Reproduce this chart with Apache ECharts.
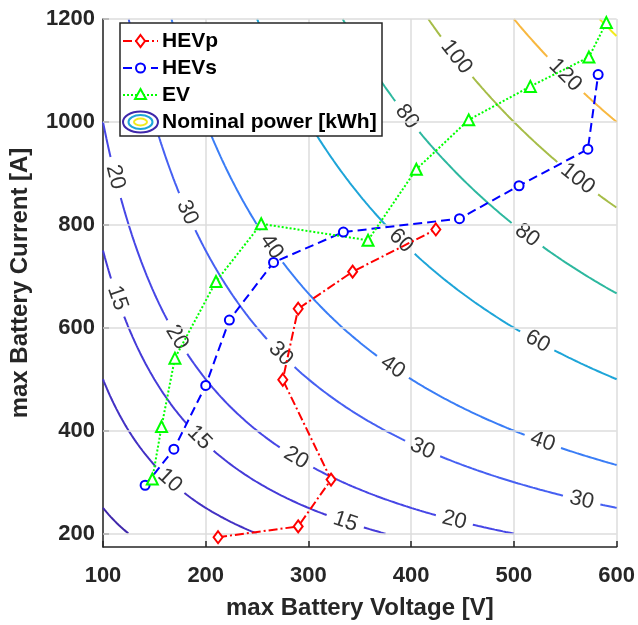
<!DOCTYPE html>
<html><head><meta charset="utf-8">
<script src="https://cdn.jsdelivr.net/npm/echarts@6/dist/echarts.min.js"></script>
<style>html,body{margin:0;padding:0;background:#fff}#c{width:638px;height:625px}</style>
</head><body><div id="c"></div>
<script>
// ---- data ----
const hevpVoltage = [212, 290, 322, 275, 290, 343, 424];
const hevpCurrent = [193, 214, 305, 499, 637, 709, 791];
const hevsVoltage = [141, 169, 200, 223, 266, 334, 447, 505, 572, 582];
const hevsCurrent = [294, 364, 488, 615, 727, 786, 812, 876, 947, 1092];
const evVoltage = [148, 157, 170, 210, 254, 358, 405, 456, 516, 573, 590];
const evCurrent = [306, 408, 541, 690, 802, 770, 908, 1004, 1069, 1126, 1193];
// contour field: nominal power = V * I / powerDivisor, on V in voltageRange, I in currentRange
const contourLevels = [5, 10, 15, 20, 30, 40, 60, 80, 100, 120, 140];
const powerDivisor = 5000;
const voltageRange = [100, 600];
const currentRange = [200, 1200];
// inline contour labels: level and voltage where each label sits on its line
const contourLabelLevels   = [20, 20, 20, 20, 30, 30, 30, 30, 15, 15, 15, 10, 40, 40, 40, 60, 60, 80, 80, 100, 100, 120];
const contourLabelVoltages = [112, 172, 288, 442, 182, 273, 411, 566, 114, 194, 336, 165, 264, 382, 528, 390, 523, 396, 513, 444, 562, 550];
const xTicks = [100, 200, 300, 400, 500, 600];
const yTicks = [200, 400, 600, 800, 1000, 1200];
const legendLabels = ['HEVp', 'HEVs', 'EV', 'Nominal power [kWh]'];

// ---- styles ----
const contourColors = ['#3f27ab', '#4331c4', '#453bd8', '#4747e6', '#4660f2', '#3a7df6', '#1ea5d8', '#2db89f', '#a6bd48', '#f8b840', '#f2ea1e'];
const FONT = '"Liberation Sans", Arial, Helvetica, sans-serif';
const AX = '#262626';

const chart = echarts.init(document.getElementById('c'), null, {renderer: 'canvas'});
const base = {
  animation: false,
  grid: {left: 97, right: 21, top: 19, bottom: 71, containLabel: false},
  xAxis: {
    type: 'value', min: xTicks[0], max: xTicks[xTicks.length - 1], interval: 100,
    name: 'max Battery Voltage [V]', nameLocation: 'middle', nameGap: 49,
    nameTextStyle: {fontFamily: FONT, fontWeight: 'bold', fontSize: 24, color: AX},
    axisLine: {onZero: false, lineStyle: {color: AX, width: 1.5}},
    axisTick: {inside: true, length: 6, lineStyle: {color: AX, width: 1.5}},
    axisLabel: {fontFamily: FONT, fontWeight: 'bold', fontSize: 22, color: AX, margin: 18, formatter: v => String(v)},
    splitLine: {show: true, lineStyle: {color: '#dddddd', width: 1.5}}
  },
  yAxis: {
    type: 'value', min: 174, max: yTicks[yTicks.length - 1],
    name: 'max Battery Current [A]', nameLocation: 'middle', nameGap: 71,
    nameTextStyle: {fontFamily: FONT, fontWeight: 'bold', fontSize: 24, color: AX},
    axisLine: {onZero: false, lineStyle: {color: AX, width: 1.5}},
    axisTick: {inside: true, length: 6, lineStyle: {color: AX, width: 1.5}, customValues: yTicks},
    axisLabel: {fontFamily: FONT, fontWeight: 'bold', fontSize: 22, color: AX, margin: 8, customValues: yTicks, formatter: v => String(v)},
    splitLine: {show: false}
  },
  series: []
};
chart.setOption(base);

const toPx = (v, i) => chart.convertToPixel({gridIndex: 0}, [v, i]);
const curI = (L, v) => L * powerDivisor / v;

const labelInfo = contourLabelLevels.map((L, k) => {
  const v = contourLabelVoltages[k];
  const p = toPx(v, curI(L, v));
  const a = toPx(v - 1.5, curI(L, v - 1.5));
  const b = toPx(v + 1.5, curI(L, v + 1.5));
  let ang = Math.atan2(-(b[1] - a[1]), b[0] - a[0]) * 180 / Math.PI;
  if (ang > 90) ang -= 180;
  if (ang < -90) ang += 180;
  return {L, v, i: curI(L, v), p, ang, r: String(L).length * 6.5 + 6};
});

const series = [];
// horizontal grid lines
series.push({
  type: 'line', data: [], silent: true, z: 1,
  markLine: {silent: true, symbol: 'none', label: {show: false},
    lineStyle: {color: '#dddddd', width: 1.5, type: 'solid'},
    data: yTicks.map(t => ({yAxis: t}))}
});
contourLevels.forEach((L, idx) => {
  const v0 = Math.max(voltageRange[0], L * powerDivisor / currentRange[1]);
  const v1 = Math.min(voltageRange[1], L * powerDivisor / currentRange[0]);
  const pts = [];
  const N = 600;
  for (let k = 0; k <= N; k++) {
    const v = v0 + (v1 - v0) * k / N;
    const i = curI(L, v);
    const p = toPx(v, i);
    const hide = labelInfo.some(l => l.L === L && Math.hypot(p[0] - l.p[0], p[1] - l.p[1]) < l.r);
    pts.push(hide ? [v, '-'] : [v, i]);
  }
  series.push({type: 'line', data: pts, symbol: 'none', showSymbol: false, connectNulls: false, silent: true, z: 2,
    lineStyle: {color: contourColors[idx], width: 2}});
});
series.push({
  type: 'scatter', symbolSize: 0, silent: true, z: 3, itemStyle: {color: '#000'},
  data: labelInfo.map(l => ({value: [l.v, l.i], label: {show: true, formatter: String(l.L), rotate: l.ang,
    position: 'inside', fontFamily: FONT, fontSize: 22, color: '#000', textBorderWidth: 0}}))
});
const pairs = (xs, ys) => xs.map((x, k) => [x, ys[k]]);
series.push({type: 'line', name: legendLabels[0], data: pairs(hevpVoltage, hevpCurrent), z: 10,
  symbol: 'diamond', symbolSize: [9, 12], showAllSymbol: true,
  itemStyle: {color: '#ffffff', borderColor: '#ff0000', borderWidth: 2},
  lineStyle: {color: '#ff0000', width: 2, type: [9, 3, 2, 3]}});
series.push({type: 'line', name: legendLabels[1], data: pairs(hevsVoltage, hevsCurrent), z: 10,
  symbol: 'circle', symbolSize: 9, showAllSymbol: true,
  itemStyle: {color: '#ffffff', borderColor: '#0000ff', borderWidth: 2},
  lineStyle: {color: '#0000ff', width: 2, type: [9, 5]}});
series.push({type: 'line', name: legendLabels[2], data: pairs(evVoltage, evCurrent), z: 10,
  symbol: 'triangle', symbolSize: 11, showAllSymbol: true,
  itemStyle: {color: '#ffffff', borderColor: '#00ff00', borderWidth: 2},
  lineStyle: {color: '#00ff00', width: 2, type: [2, 2]}});

// legend box (MATLAB style)
const lx = 123, lx2 = 158, mx = 140.5, tx = 162;
const rows = [41, 68, 95, 122];
const Z = 200;
const lg = [
  {type: 'rect', z: Z, shape: {x: 120, y: 23, width: 262, height: 113}, style: {fill: '#fff', stroke: AX, lineWidth: 1.5}},
  {type: 'line', z: Z + 1, shape: {x1: lx, y1: rows[0], x2: lx2, y2: rows[0]}, style: {stroke: '#ff0000', lineWidth: 2, lineDash: [9, 3, 2, 3]}},
  {type: 'polygon', z: Z + 2, shape: {points: [[mx, rows[0] - 6], [mx + 4.5, rows[0]], [mx, rows[0] + 6], [mx - 4.5, rows[0]]]}, style: {fill: '#fff', stroke: '#ff0000', lineWidth: 2}},
  {type: 'line', z: Z + 1, shape: {x1: lx, y1: rows[1], x2: lx2, y2: rows[1]}, style: {stroke: '#0000ff', lineWidth: 2, lineDash: [9, 5]}},
  {type: 'circle', z: Z + 2, shape: {cx: mx, cy: rows[1], r: 4.5}, style: {fill: '#fff', stroke: '#0000ff', lineWidth: 2}},
  {type: 'line', z: Z + 1, shape: {x1: lx, y1: rows[2], x2: lx2, y2: rows[2]}, style: {stroke: '#00ff00', lineWidth: 2, lineDash: [2, 2]}},
  {type: 'polygon', z: Z + 2, shape: {points: [[mx, rows[2] - 6], [mx + 5.5, rows[2] + 4], [mx - 5.5, rows[2] + 4]]}, style: {fill: '#fff', stroke: '#00ff00', lineWidth: 2}},
  {type: 'ellipse', z: Z + 1, shape: {cx: mx, cy: rows[3], rx: 17.5, ry: 10.5}, style: {fill: '#fff', stroke: contourColors[0], lineWidth: 2}},
  {type: 'ellipse', z: Z + 2, shape: {cx: mx, cy: rows[3], rx: 12, ry: 7}, style: {fill: '#fff', stroke: '#1ea5d8', lineWidth: 2}},
  {type: 'ellipse', z: Z + 3, shape: {cx: mx, cy: rows[3], rx: 6.5, ry: 3.5}, style: {fill: '#fff', stroke: '#f2ea1e', lineWidth: 2}}
];
legendLabels.forEach((t, k) => lg.push({type: 'text', z: Z + 3, style: {x: tx, y: rows[k], text: t, fill: '#000',
  font: 'bold 21px ' + FONT, verticalAlign: 'middle'}}));
chart.setOption({series, graphic: lg});
</script></body></html>
